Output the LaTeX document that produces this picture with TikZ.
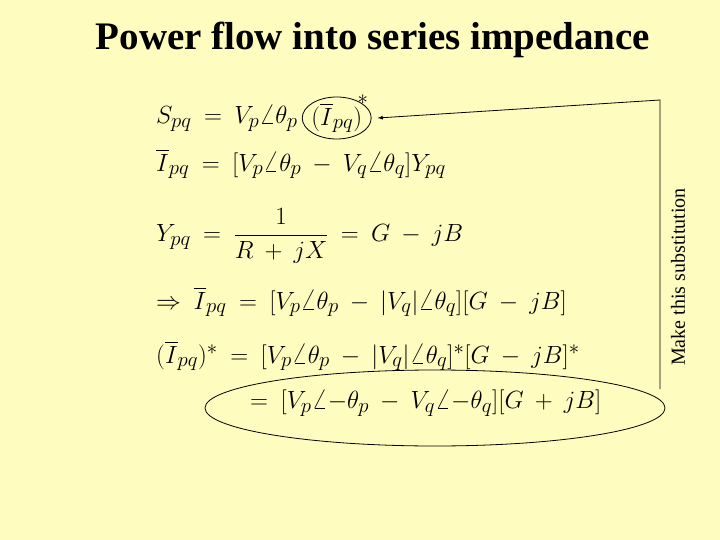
\documentclass[tikz,border=0pt]{standalone}
\usepackage{fontspec}
\setmainfont{Liberation Serif}
\usepackage{amsmath}
\usetikzlibrary{shapes.geometric}
\medmuskip=8mu plus 2mu minus 2mu
\thickmuskip=9mu plus 2mu
\begin{document}
\begin{tikzpicture}[x=1pt,y=-1pt,
  eq/.style={anchor=west,inner sep=0pt,font=\fontsize{29}{34}\selectfont},
  ring/.style={draw=black,thick}]
\fill[yellow!25] (0,0) rectangle (720,540);
\useasboundingbox (0,0) rectangle (720,540);
\node[font=\fontsize{39}{44}\selectfont\bfseries] (t) at (373,40) {Power flow into series impedance};
\node[eq] (e1) at (156,118) {$S_{pq}=V_p\angle\theta_p\,$};
\node[eq,ring,ellipse,inner sep=-1pt,minimum height=42] (small) at (e1.east) {$(\overline{I}_{pq})$};
\node[eq,anchor=south west,inner sep=0pt] (star) at ([xshift=-4pt,yshift=-2pt]small.north east) {$\scriptstyle *$};
\node[eq] (e2) at (156,164) {$\overline{I}_{pq}=[V_p\angle\theta_p-V_q\angle\theta_q]Y_{pq}$};
\node[eq] (e3) at (156,236) {$Y_{pq}=\dfrac{1}{R+jX}=G-jB$};
\node[eq] (e4) at (156,302) {$\Rightarrow\overline{I}_{pq}=[V_p\angle\theta_p-|V_q|\angle\theta_q][G-jB]$};
\node[eq] (e5) at (156,356) {$(\overline{I}_{pq})^{*}=[V_p\angle\theta_p-|V_q|\angle\theta_q]^{*}[G-jB]^{*}$};
\node[eq] (e6) at (250,403) {$=[V_p\angle{-\theta_p}-V_q\angle{-\theta_q}][G+jB]$};
\node[ring,ellipse,minimum width=460,minimum height=76,inner sep=0pt] (big) at (435,408) {};
\node[rotate=90,font=\fontsize{20}{24}\selectfont] (lab) at (678,277) {Make this substitution};
\coordinate (c1) at (660,100);
\coordinate (c0) at (660,389);
\draw[thick,-latex] (c0) -- (c1) -- ([xshift=6pt]small.east);
\end{tikzpicture}
\end{document}
